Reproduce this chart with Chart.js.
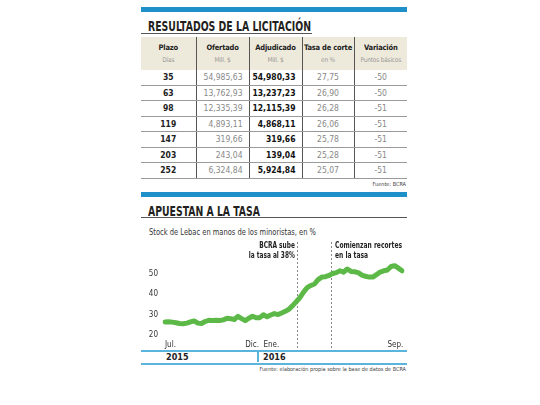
<!DOCTYPE html>
<html lang="es">
<head>
<meta charset="UTF-8">
<title>Resultados de la licitación - Apuestan a la tasa</title>
<script src="https://cdn.jsdelivr.net/npm/chart.js"></script>
<style>
  body { margin: 0; background: #fff; }
  .page { position: relative; width: 540px; height: 405px; overflow: hidden;
          font-family: 'Liberation Sans Narrow', 'DejaVu Sans Condensed', Roboto, sans-serif; color: #231f20; }
  .bar { position: absolute; left: 141px; width: 266px; height: 5px; background: #1f8fca; }
  .titulo { position: absolute; left: 148px; font-weight: bold; font-size: 14px; line-height: 14px;
            white-space: nowrap; transform-origin: left top; display: inline-block; }
  .rule { position: absolute; left: 141px; height: 1px; background: #555; }
  .sub { position: absolute; left: 149px; top: 227px; font-size: 9px; color: #333; white-space: nowrap;
         transform-origin: left top; display: inline-block; }
  table { position: absolute; left: 141px; top: 37px; width: 266px; border-collapse: collapse; table-layout: fixed; }
  th { background: #eeeadb; height: 33px; padding: 0; font-size: 7.5px; letter-spacing: -0.2px; font-weight: bold;
       line-height: 13px; color: #222; white-space: nowrap; }
  th span { display: block; font-weight: normal; color: #999; font-size: 6.5px; }
  td { height: 14.5px; padding: 0; font-size: 8.5px; border-bottom: 1px solid #9a9a9a; color: #888; text-align: center; white-space: nowrap; }
  th + th, td + td { border-left: 1px solid #555; }
  td.pl { font-weight: bold; color: #222; }
  td.of { text-align: right; padding-right: 6px; }
  td.ad { text-align: right; padding-right: 6px; font-weight: bold; color: #111; }
  .fuente { position: absolute; right: 134px; font-size: 5.5px; color: #444; white-space: nowrap; }
  #grafico { position: absolute; left: 141px; top: 226px; }
  .nota { position: absolute; top: 241px; font-size: 8px; line-height: 9.5px; font-weight: bold; color: #222; white-space: nowrap; }
  .anio { position: absolute; top: 352px; font-size: 9px; font-weight: bold; color: #222; }
</style>
</head>
<body>
<div class="page">
  <div class="bar" style="top:7px"></div>
  <div class="titulo" style="top:19px" data-ancho="163">RESULTADOS DE LA LICITACIÓN</div>
  <div class="rule" style="top:33px; width:171px"></div>

  <table>
    <colgroup><col style="width:55px"><col style="width:53px"><col style="width:53px"><col style="width:52px"><col style="width:53px"></colgroup>
    <thead>
      <tr><th>Plazo<span>Días</span></th><th>Ofertado<span>Mill. $</span></th><th>Adjudicado<span>Mill. $</span></th><th>Tasa de corte<span>en %</span></th><th>Variación<span>Puntos básicos</span></th></tr>
    </thead>
    <tbody id="filas"></tbody>
  </table>
  <div class="fuente" style="top:181px">Fuente: BCRA</div>

  <div class="bar" style="top:192px"></div>
  <div class="titulo" style="top:204px" data-ancho="112">APUESTAN A LA TASA</div>
  <div class="rule" style="top:217px; width:266px"></div>
  <div class="sub" data-ancho="167">Stock de Lebac en manos de los minoristas, en %</div>

  <canvas id="grafico" width="266" height="124"></canvas>
  <div id="notas"></div>

  <div class="rule" style="top:350px; width:266px; height:1.5px; background:#5ab4dc"></div>
  <div class="anio" style="left:166px">2015</div>
  <div style="position:absolute; left:257px; top:352px; width:2px; height:10px; background:#5ab4dc"></div>
  <div class="anio" style="left:263px">2016</div>
  <div class="rule" style="top:363px; width:266px; height:1.5px; background:#5ab4dc"></div>
  <div class="fuente" style="top:366px">Fuente: elaboración propia sobre la base de datos de BCRA</div>
</div>

<script>
  // tabla de la licitación
  const plazos = ['35', '63', '98', '119', '147', '203', '252'];
  const ofertado = ['54,985,63', '13,762,93', '12,335,39', '4,893,11', '319,66', '243,04', '6,324,84'];
  const adjudicado = ['54,980,33', '13,237,23', '12,115,39', '4,868,11', '319,66', '139,04', '5,924,84'];
  const tasaCorte = ['27,75', '26,90', '26,28', '26,06', '25,78', '25,28', '25,07'];
  const variacion = ['-50', '-50', '-51', '-51', '-51', '-51', '-51'];

  // stock de Lebac en manos de minoristas (%), datos semanales jul. 2015 - sep. 2016
  const stock = [
    26.4, 26.5, 26.3, 26.0, 25.6, 25.5, 25.8, 26.4, 26.9, 25.8,
    25.6, 26.6, 27.2, 27.1, 27.2, 27.1, 27.4, 28.2, 28.0, 27.6,
    29.1, 28.0, 27.0, 28.2, 29.2, 28.4, 28.5, 29.9, 28.9, 29.8,
    30.5, 30.0, 30.8, 31.6, 32.6, 34.4, 36.3, 38.3, 41.0, 43.2,
    44.3, 45.0, 47.2, 48.4, 48.6, 49.2, 50.2, 50.6, 51.5, 50.8,
    52.4, 51.2, 51.0, 50.6, 49.4, 48.8, 48.4, 48.4, 49.6, 50.9,
    51.5, 51.9, 53.6, 54.0, 52.8, 51.5
  ];
  const meses = ['Jul.', 'Dic.', 'Ene.', 'Sep.'];
  const semanaMes = [0, 22, 27, 61];
  const ticksY = [20, 30, 40, 50];

  const marcas = [
    { semana: 36.3, texto: 'BCRA sube<br>la tasa al 38%', lado: 'izq', ancho: 46 },
    { semana: 45.4, texto: 'Comienzan recortes<br>en la tasa', lado: 'der', ancho: 67 }
  ];

  const filas = document.getElementById('filas');
  plazos.forEach((p, i) => {
    const tr = document.createElement('tr');
    tr.innerHTML = `<td class="pl">${p}</td><td class="of">${ofertado[i]}</td><td class="ad">${adjudicado[i]}</td><td>${tasaCorte[i]}</td><td>${variacion[i]}</td>`;
    filas.appendChild(tr);
  });

  // ajustar títulos condensados al ancho del original
  function ajustar(el, ancho) {
    const w = el.getBoundingClientRect().width;
    el.style.transform = `scaleX(${ancho / w})`;
  }
  document.querySelectorAll('[data-ancho]').forEach(el => ajustar(el, +el.dataset.ancho));

  const inicio = new Date(2015, 6, 1);
  const etiquetas = stock.map((v, i) => {
    const d = new Date(inicio.getTime() + i * 7 * 86400000);
    return d.toISOString().slice(0, 10);
  });

  const TOP_CANVAS = 226;
  const lineasMarca = {
    id: 'lineasMarca',
    beforeDatasetsDraw(chart) {
      const ctx = chart.ctx;
      const x = chart.scales.x;
      const notas = document.getElementById('notas');
      notas.innerHTML = '';
      ctx.save();
      ctx.strokeStyle = '#888';
      ctx.lineWidth = 1;
      ctx.setLineDash([2, 2]);
      marcas.forEach(m => {
        const px = Math.round(x.getPixelForValue(m.semana)) + 0.5;
        ctx.beginPath();
        ctx.moveTo(px, 242 - TOP_CANVAS);
        ctx.lineTo(px, chart.height);
        ctx.stroke();

        const div = document.createElement('div');
        div.className = 'nota';
        div.innerHTML = m.texto;
        if (m.lado === 'izq') {
          div.style.right = (540 - (141 + px - 3)) + 'px';
          div.style.textAlign = 'right';
          div.style.transformOrigin = 'right top';
        } else {
          div.style.left = (141 + px + 3) + 'px';
          div.style.transformOrigin = 'left top';
        }
        notas.appendChild(div);
        ajustar(div, m.ancho);
      });
      ctx.restore();
    }
  };

  const fuenteEje = { size: 8, family: "'Liberation Sans Narrow', 'DejaVu Sans Condensed', sans-serif" };

  new Chart(document.getElementById('grafico'), {
    type: 'line',
    data: {
      labels: etiquetas,
      datasets: [{
        data: stock,
        borderColor: '#5cb947',
        borderWidth: 5,
        pointRadius: 0,
        tension: 0,
        borderJoinStyle: 'round',
        borderCapStyle: 'round'
      }]
    },
    options: {
      responsive: false,
      animation: false,
      layout: { padding: { top: 0, right: 5, bottom: 0, left: 0 } },
      plugins: { legend: { display: false }, tooltip: { enabled: false } },
      scales: {
        x: {
          grid: { display: false, drawTicks: false },
          border: { display: false },
          afterFit(scale) { scale.height = 12; },
          ticks: {
            autoSkip: false,
            maxRotation: 0,
            align: 'start',
            padding: 2,
            color: '#333',
            font: fuenteEje,
            callback: (v, i) => {
              const k = semanaMes.indexOf(i);
              return k >= 0 ? meses[k] : '';
            }
          }
        },
        y: {
          min: 18.5,
          max: 67.7,
          grid: { display: false, drawTicks: false },
          border: { display: false },
          afterFit(scale) { scale.width = 24; },
          afterBuildTicks(scale) { scale.ticks = ticksY.map(v => ({ value: v })); },
          ticks: {
            padding: 7,
            color: '#333',
            font: fuenteEje
          }
        }
      }
    },
    plugins: [lineasMarca]
  });
</script>
</body>
</html>
